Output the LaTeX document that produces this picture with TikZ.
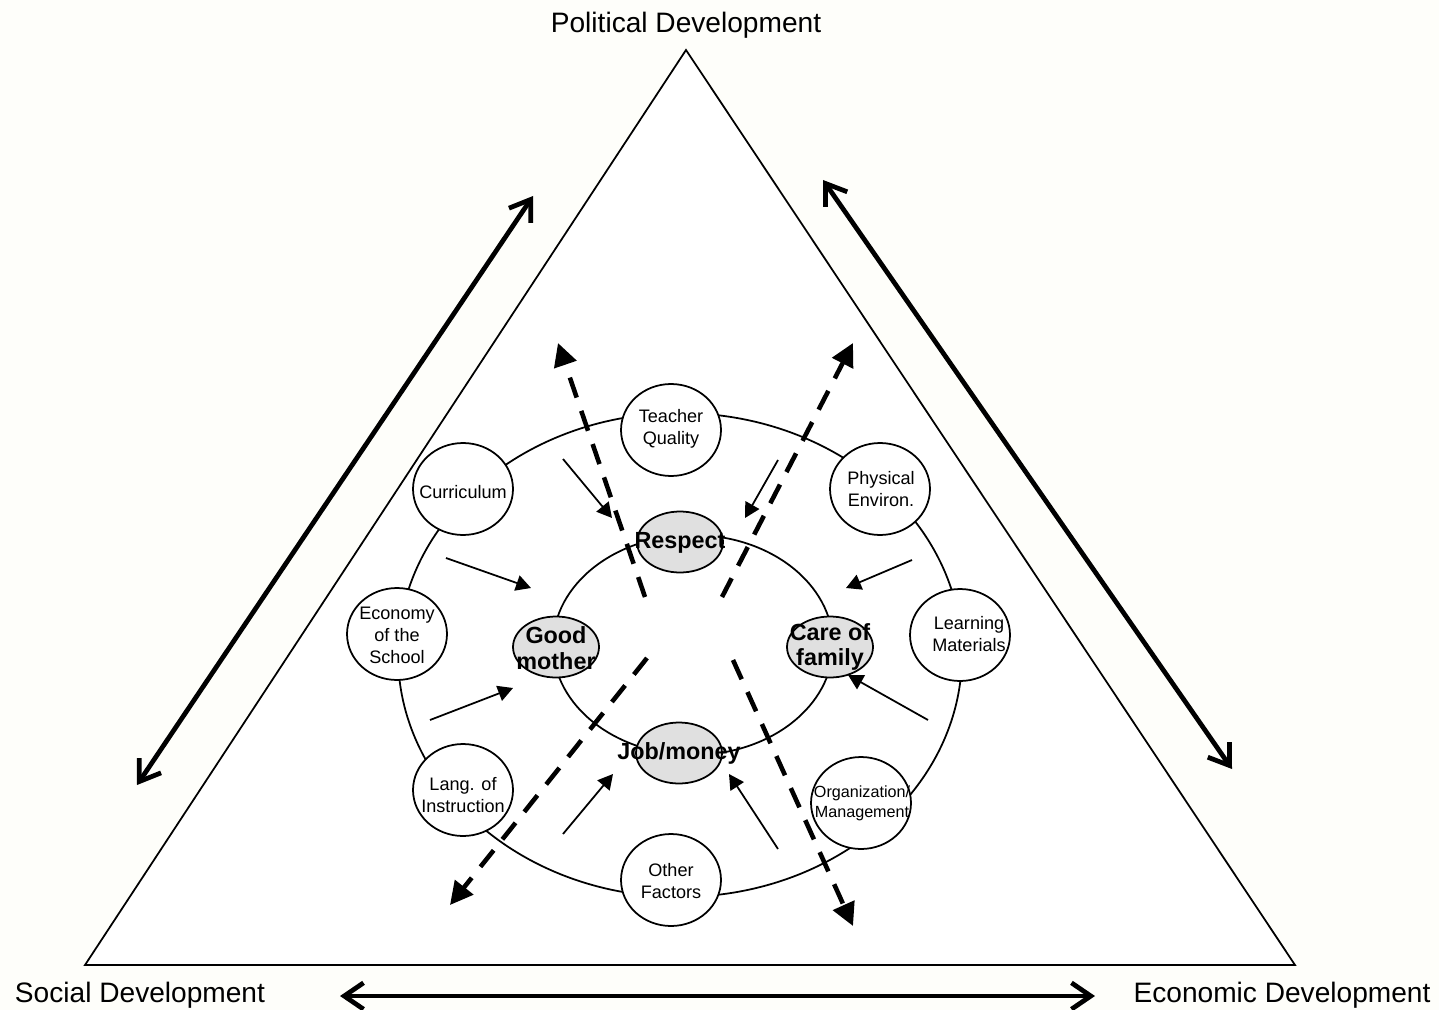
\documentclass[tikz,border=0pt]{standalone}
\usepackage{fontspec}
\setmainfont{Liberation Sans}
\usetikzlibrary{arrows.meta,shapes.geometric}
\definecolor{cream}{RGB}{254,254,250}
\definecolor{lgray}{RGB}{224,224,224}
\begin{document}
\begin{tikzpicture}[x=0.02cm,y=-0.02cm,
  thinln/.style={line width=1pt},
  smallc/.style={ellipse, draw, line width=1pt, fill=white, minimum width=2cm, minimum height=1.84cm, inner sep=0pt},
  grayc/.style={ellipse, draw, line width=1pt, fill=lgray, minimum width=1.72cm, minimum height=1.22cm, inner sep=0pt},
  ctext/.style={align=center, font=\fontsize{10.3}{12.5}\selectfont, inner sep=0pt},
  stext/.style={align=center, font=\fontsize{9.2}{11.3}\selectfont, inner sep=0pt},
  btext/.style={align=center, font=\fontsize{13.3}{14.7}\selectfont\bfseries, inner sep=0pt},
  bigtext/.style={font=\fontsize{16}{19}\selectfont, inner sep=0pt},
  bigarrow/.style={line width=2.7pt, {Straight Barb[length=11pt,width=15pt]}-{Straight Barb[length=11pt,width=15pt]}},
  dasharrow/.style={line width=2.6pt, dash pattern=on 12pt off 8pt, -{Triangle[length=13pt,width=13pt]}},
  infarrow/.style={line width=1pt, -{Triangle[length=8.5pt,width=9pt]}}]

% background and bounding box
\fill[cream] (0,0) rectangle (1439,1010);
\useasboundingbox (0,0) rectangle (1439,1010);

% triangle
\coordinate (apex) at (686,50);
\coordinate (bl) at (85,965);
\coordinate (br) at (1295,965);
\filldraw[fill=white, thinln] (apex) -- (bl) -- (br) -- cycle;

% corner labels
\node[bigtext] (pol) at (686,25) {Political Development};
\node[bigtext] (soc) at (140,995) {Social Development};
\node[bigtext] (eco) at (1282,995) {Economic Development};

% big double arrows
\coordinate (la1) at (137,785);
\coordinate (la2) at (533,196);
\coordinate (ra1) at (823,180);
\coordinate (ra2) at (1232,769);
\coordinate (ba1) at (340,996);
\coordinate (ba2) at (1095,996);
\draw[bigarrow] (la1) -- (la2);
\draw[bigarrow] (ra1) -- (ra2);
\draw[bigarrow] (ba1) -- (ba2);

% outer ring
\coordinate (oc) at (680,655);
\draw[thinln] (oc) ellipse [x radius=5.64cm, y radius=4.84cm];

% small circles
\node[smallc] (tq) at (671,430) {};
\node[smallc] (cur) at (463,489) {};
\node[smallc] (phy) at (880,489) {};
\node[smallc] (eos) at (397,634) {};
\node[smallc] (lm) at (960,635) {};
\node[smallc] (loi) at (463,790) {};
\node[smallc] (org) at (861,803) {};
\node[smallc] (of) at (671,880) {};

\node[ctext] (tqT) at (671,429) {Teacher\\Quality};
\node[ctext] (curT) at (463,492) {Curriculum};
\node[ctext] (phyT) at (881,489) {Physical\\Environ.};
\node[ctext] (eosT) at (397,635) {Economy\\of the\\School};
\node[ctext] (lmT) at (969,634) {Learning\\Materials};
\node[ctext] (loiT) at (463,795) {Lang. of\\Instruction};
\node[stext] (orgT) at (862,803) {Organization/\\Management};
\node[ctext] (ofT) at (671,881) {Other\\Factors};

% inner ring
\coordinate (ic) at (693,645);
\draw[thinln] (ic) ellipse [x radius=2.8cm, y radius=2.2cm];

% gray ellipses
\node[grayc] (res) at (680,542) {};
\node[grayc] (gm) at (556,647) {};
\node[grayc] (cf) at (830,647) {};
\node[grayc] (jm) at (679,753) {};

% dashed arrows
\coordinate (d1s) at (645,597);
\coordinate (d1e) at (558,343);
\coordinate (d2s) at (722,597);
\coordinate (d2e) at (853,343);
\coordinate (d3s) at (647,658);
\coordinate (d3e) at (450,905);
\coordinate (d4s) at (733,660);
\coordinate (d4e) at (853,926);
\draw[dasharrow] (d1s) -- (d1e);
\draw[dasharrow] (d2s) -- (d2e);
\draw[dasharrow] (d3s) -- (d3e);
\draw[dasharrow] (d4s) -- (d4e);

% influence arrows
\coordinate (a1s) at (563,459);  \coordinate (a1e) at (612,518);
\coordinate (a2s) at (778,460);  \coordinate (a2e) at (745,518);
\coordinate (a3s) at (446,558);  \coordinate (a3e) at (531,588);
\coordinate (a4s) at (912,560);  \coordinate (a4e) at (846,588);
\coordinate (a5s) at (430,720);  \coordinate (a5e) at (513,688);
\coordinate (a6s) at (928,720);  \coordinate (a6e) at (848,675);
\coordinate (a7s) at (563,834);  \coordinate (a7e) at (613,774);
\coordinate (a8s) at (778,849);  \coordinate (a8e) at (729,774);
\draw[infarrow] (a1s) -- (a1e);
\draw[infarrow] (a2s) -- (a2e);
\draw[infarrow] (a3s) -- (a3e);
\draw[infarrow] (a4s) -- (a4e);
\draw[infarrow] (a5s) -- (a5e);
\draw[infarrow] (a6s) -- (a6e);
\draw[infarrow] (a7s) -- (a7e);
\draw[infarrow] (a8s) -- (a8e);

% bold labels
\node[btext] (resT) at (680,543) {Respect};
\node[btext] (gmT) at (556,648) {Good\\mother};
\node[btext] (cfT) at (830,647) {Care of\\family};
\node[btext] (jmT) at (679,753) {Job/money};
\end{tikzpicture}
\end{document}
